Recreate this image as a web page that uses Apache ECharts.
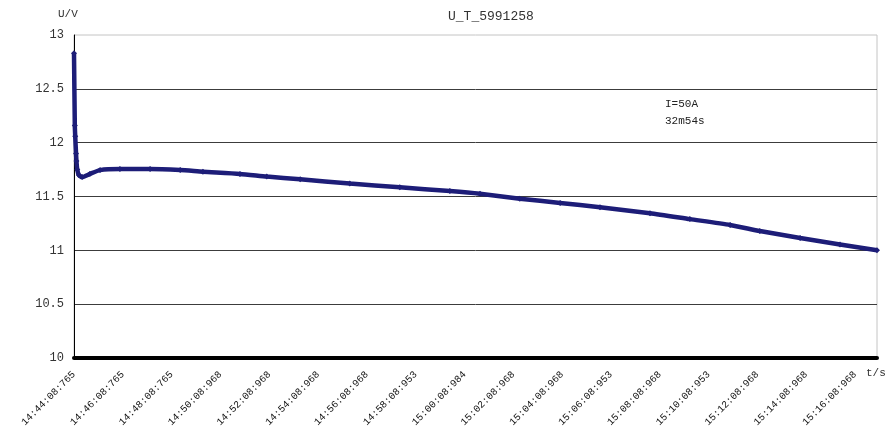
<!DOCTYPE html>
<html>
<head>
<meta charset="utf-8">
<script src="https://cdn.jsdelivr.net/npm/echarts@6/dist/echarts.min.js"></script>
<style>
  html, body { margin: 0; padding: 0; background: #fff; }
  #chart { width: 889px; height: 437px; }
</style>
</head>
<body>
<div id="chart"></div>
<script>
// Tick labels of the time axis, one every 120 s from the start of the discharge
const timeLabels = [
  '14:44:08:765', '14:46:08:765', '14:48:08:765', '14:50:08:968',
  '14:52:08:968', '14:54:08:968', '14:56:08:968', '14:58:08:953',
  '15:00:08:984', '15:02:08:968', '15:04:08:968', '15:06:08:953',
  '15:08:08:968', '15:10:08:953', '15:12:08:968', '15:14:08:968',
  '15:16:08:968'
];

// Elapsed time in seconds since 14:44:08.765
const elapsed = [
  0, 2, 3, 5, 6, 8, 12, 20, 39, 64, 113, 187, 261, 317, 408, 474,
  556, 678, 801, 924, 998, 1096, 1195, 1293, 1416, 1514, 1613, 1686,
  1785, 1883, 1974
];

// Terminal voltage in volts
const voltage = [
  12.83, 12.16, 12.06, 11.90, 11.83, 11.75, 11.70, 11.68, 11.71, 11.745,
  11.755, 11.755, 11.745, 11.73, 11.71, 11.685, 11.66, 11.62, 11.585, 11.55,
  11.525, 11.48, 11.44, 11.40, 11.345, 11.29, 11.235, 11.18, 11.115, 11.055, 11.00
];

const points = elapsed.map((t, i) => [t, voltage[i]]);

const mono = 'Liberation Mono, DejaVu Sans Mono, monospace';
const chart = echarts.init(document.getElementById('chart'), null, { renderer: 'canvas' });

chart.setOption({
  animation: false,
  backgroundColor: '#ffffff',
  title: {
    text: 'U_T_5991258',
    left: 443,
    top: 5,
    textStyle: { fontFamily: mono, fontSize: 13, fontWeight: 'normal', color: '#333' }
  },
  grid: {
    left: 74, right: 12, top: 35, bottom: 79,
    show: true, borderColor: '#c4c4c4', borderWidth: 1
  },
  xAxis: {
    type: 'value',
    min: 0,
    max: 1974,
    interval: 120,
    axisLine: { show: true, onZero: false, lineStyle: { color: '#000', width: 4 } },
    axisTick: { show: false },
    splitLine: { show: false },
    axisLabel: {
      rotate: 45,
      margin: 15,
      showMaxLabel: false,
      fontFamily: mono,
      fontSize: 10,
      color: '#111',
      formatter: v => timeLabels[Math.round(v / 120)] || ''
    }
  },
  yAxis: {
    type: 'value',
    min: 10,
    max: 13,
    interval: 0.5,
    axisLine: { show: true, lineStyle: { color: '#000', width: 1 } },
    axisTick: { show: false },
    splitLine: {
      show: true,
      showMinLine: false,
      showMaxLine: false,
      lineStyle: { color: '#3c3c3c', width: 1 }
    },
    axisLabel: {
      margin: 10,
      fontFamily: mono,
      fontSize: 12,
      color: '#333',
      formatter: v => String(v)
    }
  },
  series: [{
    type: 'line',
    data: points,
    smooth: 0.2,
    symbol: 'diamond',
    symbolSize: 6,
    showAllSymbol: true,
    itemStyle: { color: '#1d1d78' },
    lineStyle: { color: '#1d1d78', width: 4.5 }
  }],
  graphic: [
    { type: 'text', left: 58, top: 9,
      style: { text: 'U/V', font: '11px ' + mono, fill: '#333' } },
    { type: 'text', left: 866, top: 368,
      style: { text: 't/s', font: '11px ' + mono, fill: '#333' } },
    { type: 'text', left: 665, top: 99,
      style: { text: 'I=50A', font: '11px ' + mono, fill: '#222' } },
    { type: 'text', left: 665, top: 116,
      style: { text: '32m54s', font: '11px ' + mono, fill: '#222' } }
  ]
});
</script>
</body>
</html>
